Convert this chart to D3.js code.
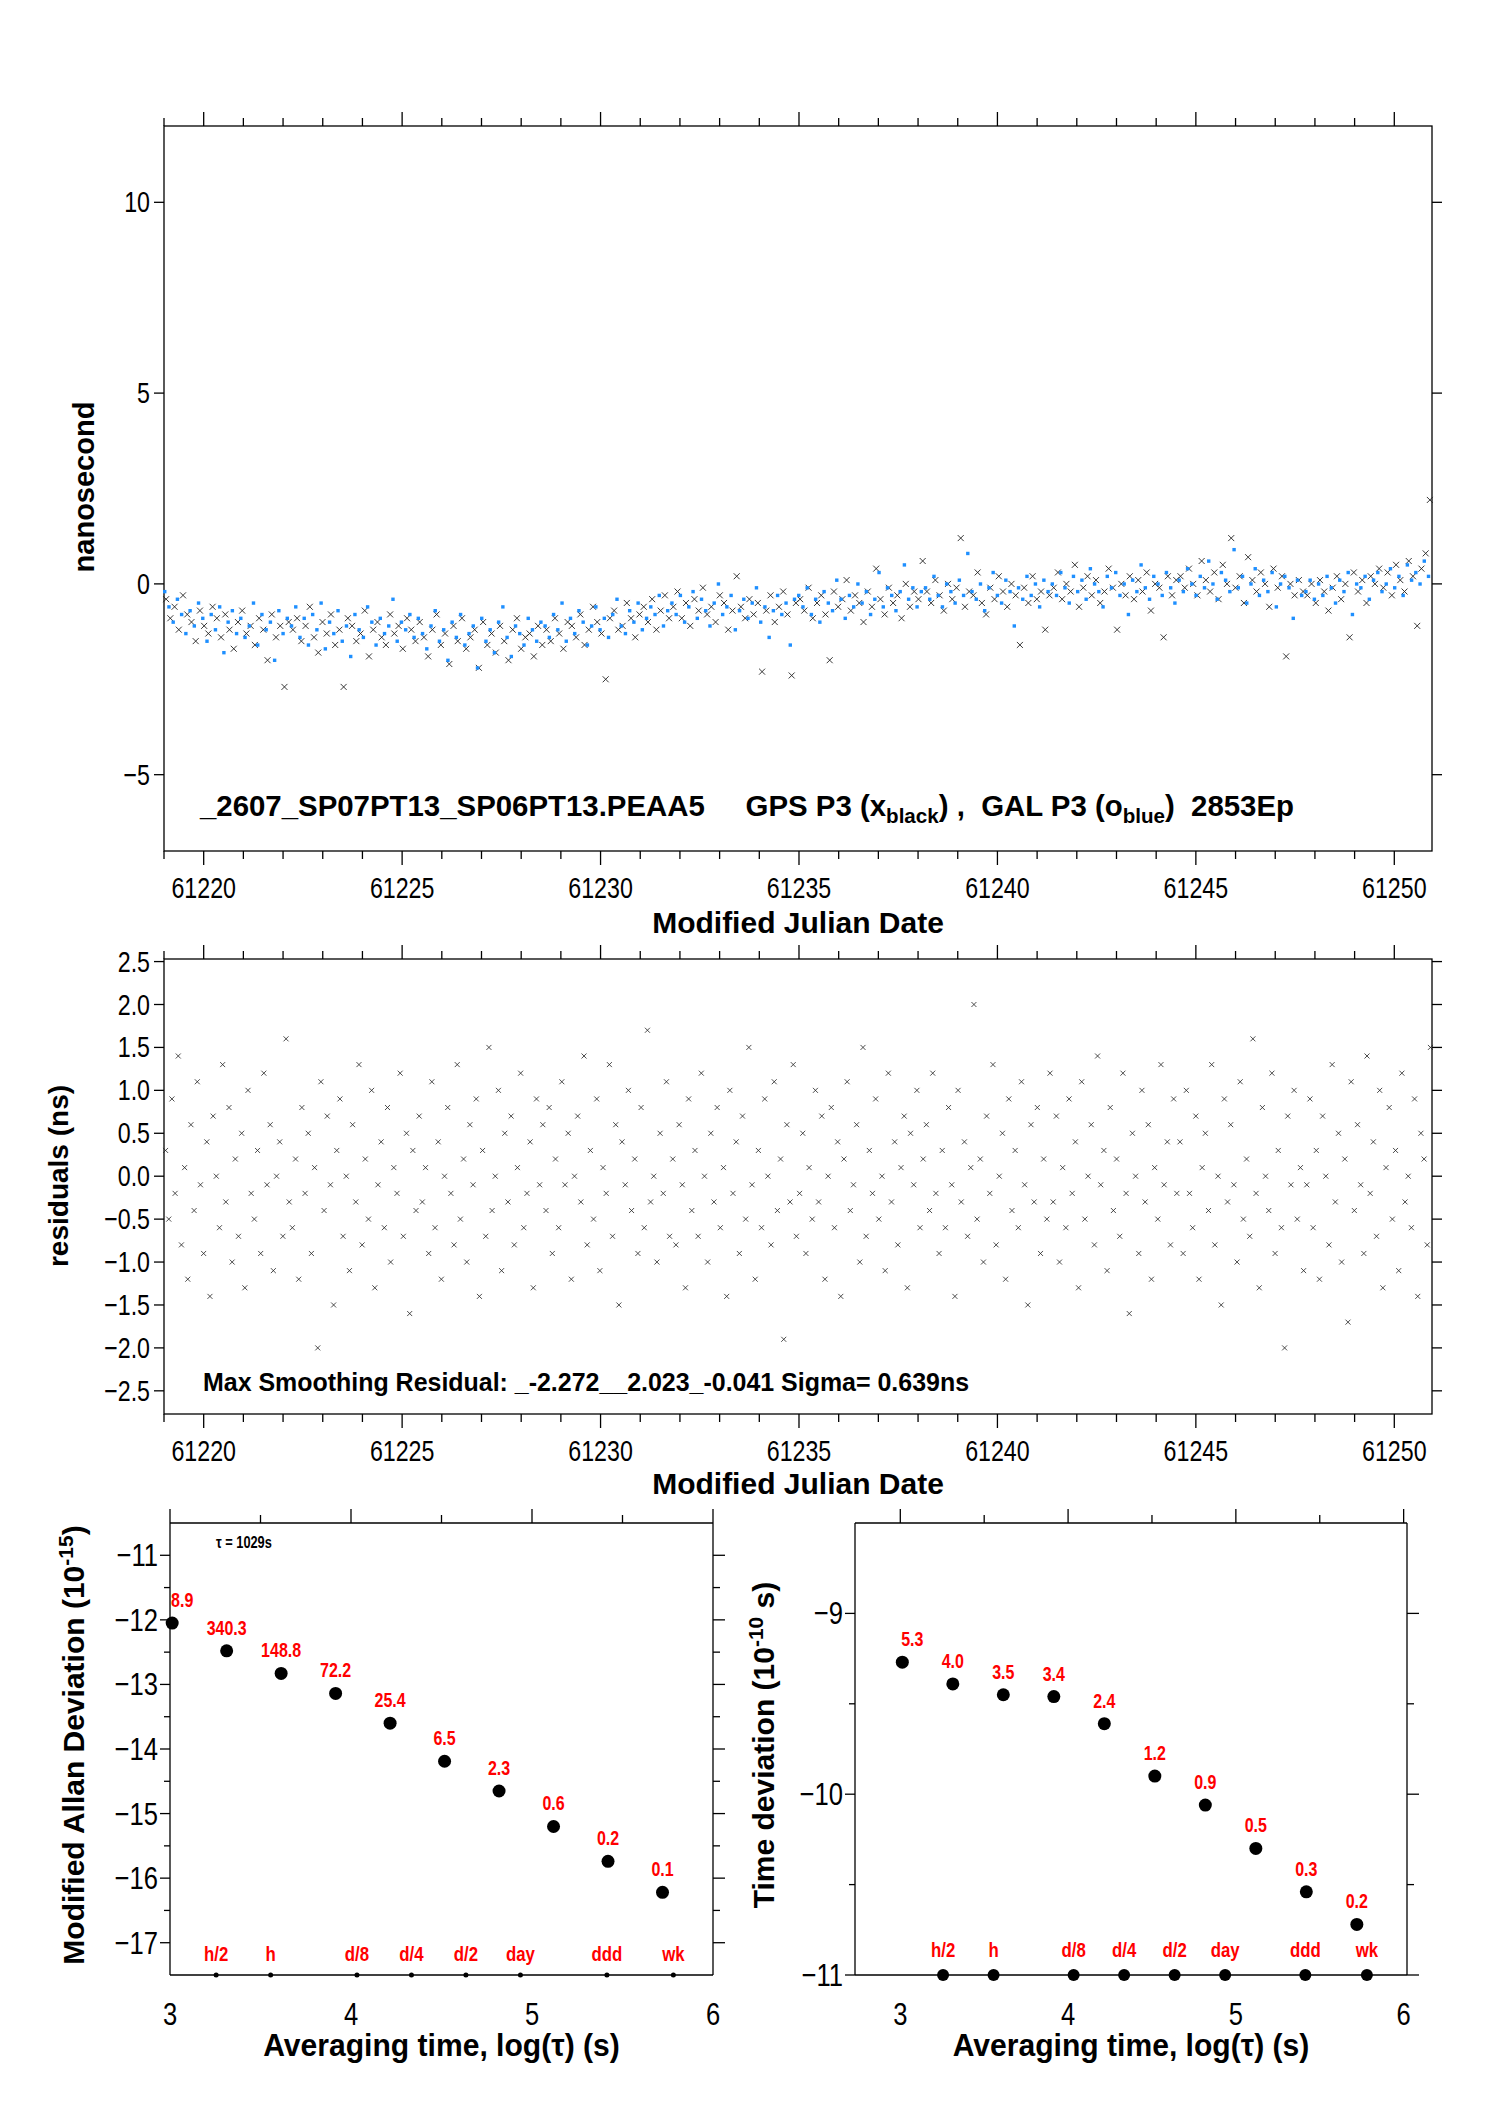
<!DOCTYPE html>
<html><head><meta charset="utf-8">
<script src="https://cdn.jsdelivr.net/npm/d3@7"></script>
<style>body{margin:0;background:#fff}svg{display:block}</style>
</head><body>
<script>
// ---------------- DATA ----------------
const mjdStart = 61219.0, mjdEnd = 61250.95;
// GPS P3 clock offsets (tenths of ns), evenly spaced over the MJD range
const gpsVals = [
-4,-9,-6,-12,-3,-8,-10,-15,-7,-11,-13,-6,-9,-14,-8,-12,-17,-10,-7,-13,-11,-16,-9,-12,-20,-8,-14,-11,-27,-10,
-12,-9,-15,-11,-6,-14,-18,-10,-13,-8,-16,-12,-27,-9,-11,-15,-13,-7,-19,-12,-10,-14,-16,-8,-13,-11,-17,-9,-12,-15,
-10,-14,-19,-12,-8,-16,-13,-21,-11,-15,-9,-17,-14,-12,-22,-10,-16,-13,-18,-11,-15,-20,-12,-9,-17,-14,-13,-19,-11,-16,
-12,-15,-9,-13,-17,-10,-11,-14,-8,-16,-12,-6,-10,-13,-25,-9,-7,-12,-11,-5,-9,-14,-8,-6,-10,-4,-12,-7,-3,-9,
-6,-2,-9,-5,-11,-4,-7,-1,-8,-6,-10,-3,-5,-12,-7,2,-6,-9,-4,-8,-5,-23,-7,-3,-10,-6,-2,-8,-24,-5,
-4,-7,-1,-9,-5,-3,-8,-20,-2,-6,-4,1,-7,-3,-5,-10,-2,-6,4,-4,-8,-1,-5,-3,-9,0,-6,-2,-4,6,
-2,-5,1,-3,-7,0,-4,-1,12,-6,-2,-3,3,-5,-8,-1,-4,2,-2,-6,0,-3,-16,-1,-5,2,-4,-2,-12,-3,
-1,3,-4,0,-2,5,-6,-1,2,-3,1,-5,-2,4,-1,-12,0,-3,2,-4,1,-2,3,-7,0,-1,-14,2,-3,1,
2,-1,4,0,-3,6,1,-2,3,-4,5,0,12,-1,2,-5,7,1,-2,3,0,-6,4,-1,2,-19,0,-3,1,-2,
-3,0,-5,1,-2,-7,-1,2,-4,0,-14,3,-2,1,-5,2,0,4,-1,3,-3,5,1,-2,6,2,-11,4,8,22];
// GAL P3 clock offsets (tenths of ns)
const galVals = [
-2,-6,-10,-4,-8,-13,-7,-11,-5,-9,-15,-8,-12,-6,-18,-10,-7,-13,-9,-14,-11,-5,-16,-8,-12,-10,-20,-7,-13,-9,
-11,-6,-14,-9,-16,-8,-12,-5,-17,-10,-13,-7,-15,-11,-19,-8,-12,-14,-6,-10,-16,-9,-13,-11,-4,-15,-10,-12,-8,-14,
-9,-13,-17,-11,-7,-15,-12,-20,-10,-14,-8,-16,-13,-11,-22,-9,-15,-12,-18,-10,-6,-14,-19,-11,-13,-16,-9,-12,-15,-10,
-11,-14,-8,-12,-5,-15,-9,-13,-7,-10,-16,-11,-6,-12,-9,-14,-8,-4,-11,-13,-7,-10,-5,-12,-9,-6,-8,-3,-11,-7,
-5,-8,-3,-10,-6,-2,-9,-4,-7,-11,-5,0,-8,-6,-3,-12,-7,-4,-9,-5,-1,-10,-6,-14,-7,-3,-8,-5,-16,-4,
-3,-6,-1,-8,-4,-10,-2,-5,-7,1,-4,-9,-3,-6,0,-5,-2,-8,-4,3,-6,-1,-3,-7,-2,5,-4,-1,-6,-2,
-1,-4,2,-3,-6,0,-2,-5,1,-3,8,-2,-4,0,-7,-1,3,-3,-5,1,-2,-11,-1,-4,2,-3,0,-6,1,-2,
0,-3,3,-1,-5,2,-2,1,-4,4,0,-2,-6,2,-1,3,-3,0,-8,1,-2,5,-1,-4,2,0,-3,3,-1,-5,
1,-2,4,0,-3,2,-1,6,0,-4,3,1,-2,9,-1,2,-5,0,4,-3,1,-2,3,-6,0,2,-1,-9,1,-3,
-2,1,-4,0,-3,2,-1,-5,1,-2,3,-8,0,-1,2,-4,1,3,-2,0,4,-1,2,-3,5,1,3,0,6,2];
// smoothing residuals (tenths of ns)
const resVals = [
3,-5,9,-2,14,-8,1,-12,6,-4,11,-1,-9,4,-14,7,0,-6,13,-3,8,-10,2,-7,5,-13,10,-2,-5,3,-9,12,-1,6,-11,0,4,-7,16,-3,
-6,2,-12,8,-2,5,-9,1,-20,11,-4,7,-1,-15,3,9,-7,0,-11,6,-3,13,-8,2,-5,10,-13,-1,4,-6,8,-10,1,-2,12,-7,5,-16,3,-4,
7,-3,1,-9,11,-6,4,-12,0,8,-2,-8,13,-5,2,-10,6,-1,9,-14,3,-7,15,-4,0,10,-11,5,-3,7,-8,1,12,-6,-2,4,-13,9,-1,6,
-4,8,-9,2,-6,11,-1,5,-12,0,7,-3,14,-8,3,-5,9,-11,1,-2,13,-7,6,-15,4,-1,10,-4,2,-9,8,-6,17,-3,0,-10,5,-2,11,-7,
2,-8,6,-1,-13,9,-4,3,-7,12,0,-10,5,-3,8,-6,1,-14,10,-2,4,-9,7,-5,15,-1,-12,3,-6,9,0,-8,11,-4,2,-19,6,-3,13,-7,
-2,5,-9,1,-5,10,-3,7,-12,0,8,-6,4,-14,2,11,-4,-1,6,-10,15,-7,3,-2,9,-5,0,-11,12,-3,4,-8,1,7,-13,5,-1,10,-6,2,
6,-4,12,-2,-9,3,-6,8,-1,-14,10,-3,4,-7,1,20,-5,2,-10,7,-2,13,-8,0,5,-12,9,-4,3,-6,11,-1,-15,6,-3,8,-9,2,-5,12,
-3,7,-10,1,-6,9,-2,4,-13,11,-5,0,6,-8,14,-1,3,-11,8,-4,2,-7,12,-2,-16,5,0,-9,10,-3,6,-12,1,-5,13,-1,4,-8,9,-2,
4,-9,10,-2,-6,7,-12,1,5,-4,13,-8,0,-15,9,-3,6,-1,-10,11,-5,2,-7,16,-2,-13,8,0,-4,12,-9,3,-6,-20,7,-1,10,-5,1,-11,
-1,9,-6,3,-12,7,0,-8,13,-3,5,-10,2,-17,11,-4,6,-1,-9,14,-2,4,-7,10,-13,1,8,-5,3,-11,12,-3,0,-6,9,-14,5,2,-8,15];
const topYTicks = [10,5,0,-5];
const midYTicks = [2.5,2.0,1.5,1.0,0.5,0.0,-0.5,-1.0,-1.5,-2.0,-2.5];
const mjdTicks = [61220,61225,61230,61235,61240,61245,61250];
// stability
const logTau = [3.012,3.313,3.614,3.915,4.216,4.517,4.818,5.119,5.420,5.721];
const mdev = [-12.05,-12.48,-12.83,-13.14,-13.60,-14.19,-14.65,-15.20,-15.74,-16.22];
const mdevLabels = ["8.9","340.3","148.8","72.2","25.4","6.5","2.3","0.6","0.2","0.1"];
const tdev = [-9.27,-9.39,-9.45,-9.46,-9.61,-9.90,-10.06,-10.30,-10.54,-10.72];
const tdevLabels = ["5.3","4.0","3.5","3.4","2.4","1.2","0.9","0.5","0.3","0.2"];
const markNames = ["h/2","h","d/8","d/4","d/2","day","ddd","wk"];
const markLog = [3.255,3.556,4.033,4.334,4.635,4.936,5.414,5.781];
const mdevYTicks = [-11,-12,-13,-14,-15,-16,-17];
const tdevYTicks = [-9,-10,-11];
const logTicks = [3,4,5,6];

// ---------------- DRAW ----------------
const W=1488,H=2105;
const FF='"Liberation Sans",Arial,sans-serif';
const SX=0.8;
const svg=d3.select("body").append("svg").attr("width",W).attr("height",H);
const minus=s=>String(s).replace("-","\u2212");

function frame(x0,x1,y0,y1){
  svg.append("rect").attr("x",x0).attr("y",y0).attr("width",x1-x0).attr("height",y1-y0)
   .attr("fill","none").attr("stroke","#000").attr("stroke-width",1.3);
}
function line(x1,y1,x2,y2){svg.append("line").attr("x1",x1).attr("y1",y1).attr("x2",x2).attr("y2",y2).attr("stroke","#000").attr("stroke-width",1.3);}
function text(x,y,t,opt={}){
  return svg.append("text").attr("transform",`translate(${x},${y}) scale(${opt.sx||SX},1)`).text(t)
   .attr("font-family",FF).attr("font-size",opt.fs||26)
   .attr("font-weight",opt.fw||"normal").attr("fill",opt.fill||"#000")
   .attr("text-anchor",opt.anchor||"middle");
}

function timePanel(x0,x1,y0,y1,yDom,yTicks,yFmt){
  const x=d3.scaleLinear().domain([mjdStart,mjdEnd]).range([x0,x1]);
  const y=d3.scaleLinear().domain(yDom).range([y1,y0]);
  frame(x0,x1,y0,y1);
  for(let d=61219;d<=61251;d++){
    if(d<mjdStart||d>mjdEnd) continue;
    const L=d%5===0?14:8, px=x(d);
    line(px,y0,px,y0-L); line(px,y1,px,y1+L);
  }
  yTicks.forEach(v=>{const py=y(v); line(x0-10,py,x0,py); line(x1,py,x1+10,py);
    text(x0-14,py+10,yFmt(v),{anchor:"end",fs:29});});
  mjdTicks.forEach(v=>text(x(v),y1+47,v,{fs:29}));
  return {x,y};
}

// top panel
const P1=timePanel(164,1432,126,851,[-7,12],topYTicks,v=>minus(v));
const n1=gpsVals.length;
svg.append("g").selectAll("path").data(gpsVals).join("path")
 .attr("d",(v,i)=>{const px=P1.x(mjdStart+(mjdEnd-mjdStart)*(i+0.5)/n1),py=P1.y(v/10);return `M${px-3},${py-3}L${px+3},${py+3}M${px-3},${py+3}L${px+3},${py-3}`;})
 .attr("stroke","#222").attr("stroke-width",0.9);
svg.append("g").selectAll("rect").data(galVals).join("rect")
 .attr("x",(v,i)=>P1.x(mjdStart+(mjdEnd-mjdStart)*(i+0.15)/galVals.length)-1.6)
 .attr("y",v=>P1.y(v/10)-1.6).attr("width",3.4).attr("height",3.4).attr("fill","#1e8fff");
text(798,933,"Modified Julian Date",{fw:"bold",fs:30,sx:1.0});
svg.append("text").attr("transform","translate(94,487) rotate(-90)").attr("text-anchor","middle")
 .attr("font-family",FF).attr("font-weight","bold").attr("font-size",29).text("nanosecond");
const lg=svg.append("text").attr("transform","translate(200,816) scale(0.98,1)").attr("font-family",FF).attr("font-weight","bold").attr("font-size",30).attr("xml:space","preserve");
lg.append("tspan").text("_2607_SP07PT13_SP06PT13.PEAA5     GPS P3 (x");
lg.append("tspan").attr("font-size",21).attr("dy",7).text("black");
lg.append("tspan").attr("dy",-7).text(") ,  GAL P3 (o");
lg.append("tspan").attr("font-size",21).attr("dy",7).text("blue");
lg.append("tspan").attr("dy",-7).text(")  2853Ep");

// middle panel
const P2=timePanel(164,1432,959,1414,[-2.77,2.53],midYTicks,v=>minus(v.toFixed(1)));
const n2=resVals.length;
svg.append("g").selectAll("path").data(resVals).join("path")
 .attr("d",(v,i)=>{const px=P2.x(mjdStart+(mjdEnd-mjdStart)*(i+0.5)/n2),py=P2.y(v/10);return `M${px-2.5},${py-2.5}L${px+2.5},${py+2.5}M${px-2.5},${py+2.5}L${px+2.5},${py-2.5}`;})
 .attr("stroke","#222").attr("stroke-width",0.8);
text(798,1494,"Modified Julian Date",{fw:"bold",fs:30,sx:1.0});
svg.append("text").attr("transform","translate(68,1176) rotate(-90)").attr("text-anchor","middle")
 .attr("font-family",FF).attr("font-weight","bold").attr("font-size",28).text("residuals (ns)");
text(203,1391,"Max Smoothing Residual: _-2.272__2.023_-0.041  Sigma= 0.639ns",{fw:"bold",fs:26,anchor:"start",sx:0.96});

// stability panels
function stab(x0,x1,y0,y1,xDom,yDom,yTicks,vals,labels,dotY,r){
  const x=d3.scaleLinear().domain(xDom).range([x0,x1]);
  const y=d3.scaleLinear().domain(yDom).range([y1,y0]);
  line(x0,y0,x1,y0); line(x0,y1,x1,y1); line(x0,y0,x0,y1); line(x1,y0,x1,y1);
  for(let t=3;t<=6;t+=0.5){const px=x(t); line(px,y0,px,y0-(t%1===0?14:8));}
  logTicks.forEach(t=>text(x(t),y1+50,t,{fs:32}));
  yTicks.forEach(v=>{const py=y(v);line(x0-10,py,x0,py);line(x1,py,x1+12,py);
    text(x0-12,py+11,minus(v),{anchor:"end",fs:32});});
  for(let v=Math.ceil(yDom[0]);v<yDom[1];v++){if(v+0.5<yDom[1]){const py=y(v+0.5);line(x0-6,py,x0,py);line(x1,py,x1+7,py);}}
  svg.append("g").selectAll("circle").data(vals).join("circle")
   .attr("cx",(v,i)=>x(logTau[i])).attr("cy",v=>y(v)).attr("r",r).attr("fill","#000");
  labels.forEach((l,i)=>text(x(logTau[i])+(i===0?10:0),y(vals[i])-16,l,{fw:"bold",fs:20,fill:"#f00"}));
  markLog.forEach(v=>svg.append("circle").attr("cx",x(v)).attr("cy",y(dotY)).attr("r",dotY<-16?2.5:6).attr("fill","#000"));
  markNames.forEach((n,i)=>text(x(markLog[i]),y(dotY)-(dotY<-16?14:18),n,{fw:"bold",fs:21,fill:"#f00"}));
  text((x0+x1)/2,y1+81,"Averaging time, log(\u03c4) (s)",{fw:"bold",fs:32,sx:0.94});
  return {x,y};
}
stab(170,713,1523,1975,[3,6],[-17.5,-10.5],mdevYTicks,mdev,mdevLabels,-17.5,6.5);
stab(855,1407,1523,1975,[2.73,6.02],[-11,-8.5],tdevYTicks,tdev,tdevLabels,-11,6.5);
text(216,1548,"\u03c4 = 1029s",{fs:16,anchor:"start",fw:"bold"});
const t1=svg.append("text").attr("transform","translate(84,1745) rotate(-90)").attr("text-anchor","middle")
 .attr("font-family",FF).attr("font-weight","bold").attr("font-size",30);
t1.append("tspan").text("Modified Allan Deviation (10");
t1.append("tspan").attr("font-size",21).attr("dy",-11).text("-15");
t1.append("tspan").attr("dy",11).text(")");
const t2=svg.append("text").attr("transform","translate(774,1745) rotate(-90)").attr("text-anchor","middle")
 .attr("font-family",FF).attr("font-weight","bold").attr("font-size",30);
t2.append("tspan").text("Time deviation (10");
t2.append("tspan").attr("font-size",21).attr("dy",-11).text("-10");
t2.append("tspan").attr("dy",11).text(" s)");
</script>
</body></html>
